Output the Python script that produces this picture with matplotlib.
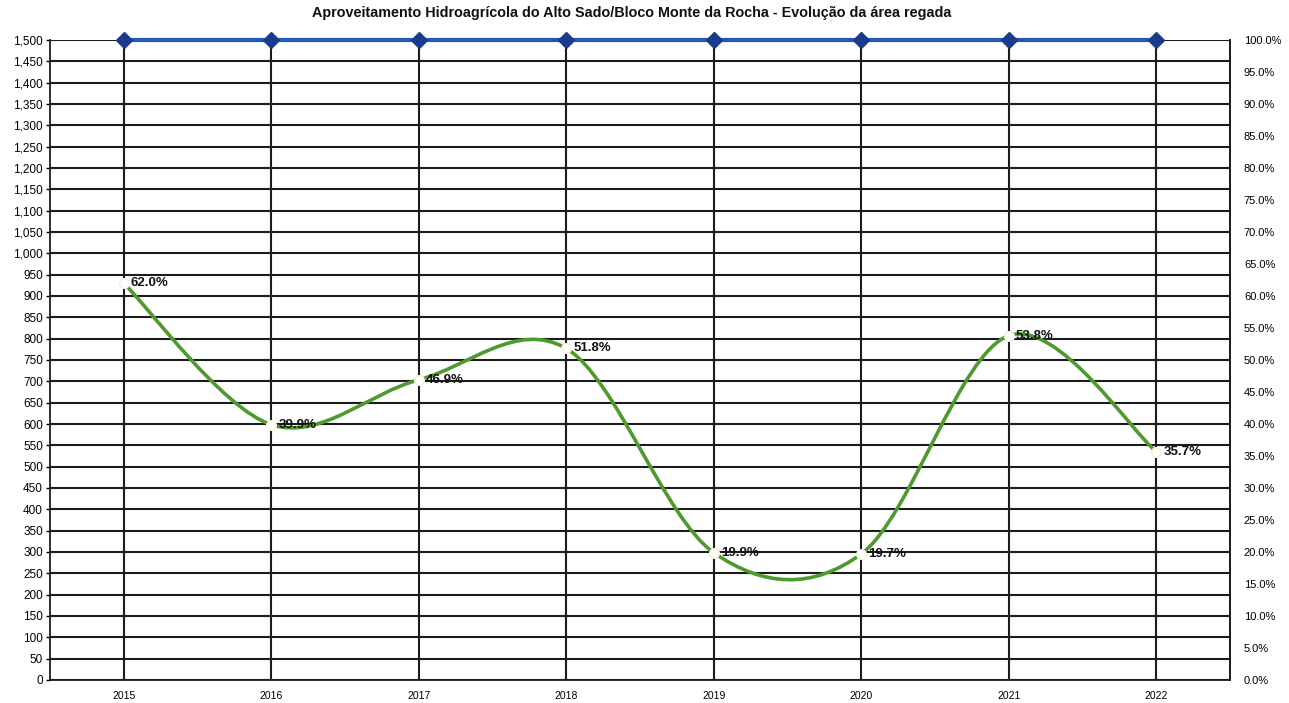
import matplotlib
matplotlib.use("Agg")
import matplotlib.pyplot as plt
import numpy as np
from matplotlib.path import Path
from matplotlib.patches import PathPatch
from matplotlib.ticker import MultipleLocator, FuncFormatter

years = ["2015", "2016", "2017", "2018", "2019", "2020", "2021", "2022"]
area_total = [1500, 1500, 1500, 1500, 1500, 1500, 1500, 1500]     # ha, left axis
pct_regada = [62.0, 39.9, 46.9, 51.8, 19.9, 19.7, 53.8, 35.7]     # %, right axis
title = "Aproveitamento Hidroagrícola do Alto Sado/Bloco Monte da Rocha - Evolução da área regada"

BLUE = "#2457b8"
BLUE_DK = "#1a3a8c"
GREEN = "#4e9a2e"
GRID = "#1c1c1c"

plt.rcParams.update({"font.family": "Liberation Sans", "font.size": 8})

fig = plt.figure(figsize=(12.89, 7.03), dpi=100)
ax = fig.add_axes([50 / 1289, 23 / 703, 1180 / 1289, 640 / 703])
ax2 = ax.twinx()

x = np.arange(len(years))

# grid: horizontal every 50 ha, vertical at each year
ax.set_xlim(-0.5, len(years) - 0.5)
ax.set_ylim(0, 1500)
ax.yaxis.set_major_locator(MultipleLocator(50))
ax.yaxis.set_major_formatter(FuncFormatter(lambda v, _: f"{int(v):,}"))
ax.set_xticks(x)
ax.set_xticklabels(years, fontsize=7.5)
ax.grid(True, axis="both", color=GRID, lw=1.5, zorder=0)
ax.tick_params(axis="y", labelsize=8.5, length=3, width=1, pad=2)
ax.tick_params(axis="x", length=0, pad=8)
for s in ax.spines.values():
    s.set_color(GRID); s.set_linewidth(1.3)
ax.spines["top"].set_visible(False)

ax2.set_ylim(0, 100)
ax2.yaxis.set_major_locator(MultipleLocator(5))
ax2.yaxis.set_major_formatter(FuncFormatter(lambda v, _: f"{v:.1f}%"))
ax2.tick_params(axis="y", labelsize=8, length=0, pad=10)
for s in ax2.spines.values():
    s.set_visible(False)
ax2.spines["right"].set_visible(True)
ax2.spines["right"].set_color(GRID); ax2.spines["right"].set_linewidth(1.3)

# total area, straight line with diamond markers
ax.plot(x, area_total, color=BLUE, lw=3, marker="D", ms=8, mfc=BLUE_DK, mec=BLUE_DK,
        zorder=5, clip_on=False)

# irrigated share, smoothed with cubic Bezier segments (Catmull-Rom style tangents)
pts = np.column_stack([x, pct_regada]).astype(float)
n = len(pts)
verts = [tuple(pts[0])]
codes = [Path.MOVETO]
for i in range(n - 1):
    p0 = pts[max(i - 1, 0)]; p1 = pts[i]; p2 = pts[i + 1]; p3 = pts[min(i + 2, n - 1)]
    c1 = p1 + (p2 - p0) / 6.0
    c2 = p2 - (p3 - p1) / 6.0
    verts += [tuple(c1), tuple(c2), tuple(p2)]
    codes += [Path.CURVE4] * 3
ax2.add_patch(PathPatch(Path(verts, codes), fill=False, edgecolor=GREEN, lw=2.6,
                        capstyle="round", zorder=4))
ax2.plot(x, pct_regada, ls="none", marker="o", ms=7, mfc="white", mec="#f4f1d6",
         mew=1, zorder=6)
for xi, v in zip(x, pct_regada):
    ax2.annotate(f"{v:.1f}%", (xi, v), xytext=(5, 0), textcoords="offset points",
                 ha="left", va="center", fontsize=9.5, fontweight="bold", color="#111111",
                 zorder=7)

fig.text(632 / 1289, 1 - 13 / 703, title, ha="center", va="center", fontsize=10.4,
         fontweight="bold", color="#111111")

fig.savefig("out.png", dpi=100, facecolor="white")
